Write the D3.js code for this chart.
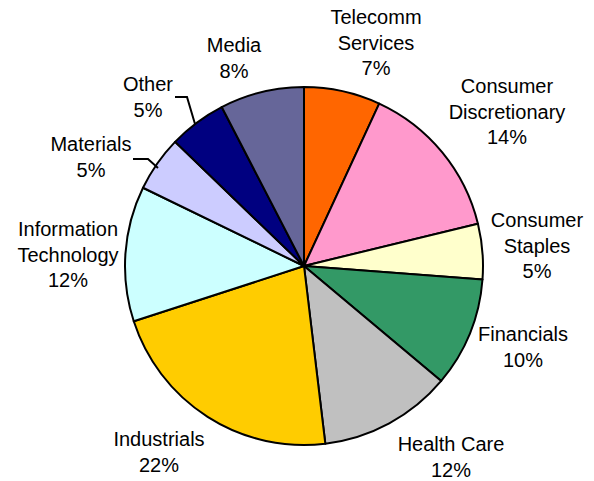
<!DOCTYPE html>
<html><head><meta charset="utf-8">
<script src="https://cdn.jsdelivr.net/npm/d3@7"></script>
<style>html,body{margin:0;padding:0;background:#fff;}svg{display:block;}</style>
</head><body>
<svg id="c" width="594" height="481"></svg>
<script>
const categories = ["Telecomm Services","Consumer Discretionary","Consumer Staples","Financials","Health Care","Industrials","Information Technology","Materials","Other","Media"];
const values = [6.9, 14.3, 5.0, 9.9, 12.0, 21.9, 12.2, 5.0, 5.2, 7.6];
const labelLines = [["Telecomm","Services"],["Consumer","Discretionary"],["Consumer","Staples"],["Financials"],["Health Care"],["Industrials"],["Information","Technology"],["Materials"],["Other"],["Media"]];
const colors = ["#FF6600","#FF99CC","#FFFFCC","#339966","#C0C0C0","#FFCC00","#CCFFFF","#CCCCFF","#000080","#666699"];

// layout (label anchor: center x, first baseline y)
const labelPos = [[376,24],[507,93],[537,227],[523,341],[451,451],[159,446],[68,236],[91,151],[148,91],[234,52]];
const leaders = {7:[[133,159],[148,159],[158,168]], 8:[[175,97],[187,97],[195,124]]};

const svg = d3.select("#c");
const cx = 304, cy = 266, r = 179;
const total = d3.sum(values);
const pie = d3.pie().sort(null).value(d => d)(values);
const arc = d3.arc().innerRadius(0).outerRadius(r);
const g = svg.append("g").attr("transform", `translate(${cx},${cy})`);
g.selectAll("path").data(pie).join("path")
  .attr("d", arc).attr("fill", (d,i) => colors[i])
  .attr("stroke", "#000").attr("stroke-width", 2).attr("stroke-linejoin","round");

const line = d3.line();
Object.entries(leaders).forEach(([k,pts]) => {
  svg.append("path").attr("d", line(pts)).attr("fill","none").attr("stroke","#000").attr("stroke-width",2);
});

const lh = 25.7;
categories.forEach((c,i) => {
  const [x,y] = labelPos[i];
  const t = svg.append("text").attr("text-anchor","middle")
    .attr("font-family","Liberation Sans, Arial, sans-serif").attr("font-size","20px").attr("fill","#000");
  const lines = labelLines[i].concat([d3.format(".0f")(values[i]/total*100) + "%"]);
  lines.forEach((s,j) => t.append("tspan").attr("x", x).attr("y", y + j*lh).text(s));
});
</script>
</body></html>
